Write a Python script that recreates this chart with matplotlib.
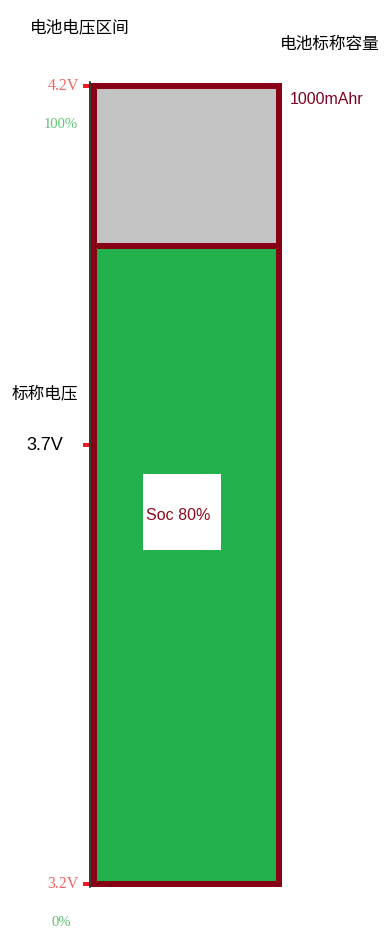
import matplotlib
matplotlib.use('Agg')
import matplotlib.pyplot as plt
from matplotlib.patches import Rectangle

plt.rcParams['font.family'] = ['Noto Sans CJK SC', 'DejaVu Sans']

# 电池参数
capacity_label = '1000mAhr'
soc = 80                              # 当前剩余电量 (%)
soc_full = 100
voltage_labels = ['3.2V', '3.7V', '4.2V']
voltage_soc = [0, 55, 100]            # 各电压在电量轴上的位置
percent_labels = ['0%', '100%']
percent_soc = [0, 100]

BORDER = '#880015'
GREEN = '#22b14c'
GRAY = '#c3c3c3'
TICK_RED = '#ed1c24'
LABEL_RED = '#f06464'
LABEL_GREEN = '#5cc46c'
SERIF = ['Liberation Serif', 'DejaVu Serif']
SANS = ['Liberation Sans', 'DejaVu Sans']

W, H = 385, 935
fig = plt.figure(figsize=(W / 100, H / 100), dpi=100)
fig.patch.set_facecolor('white')


def fx(x):
    return x / W


def fy(y):
    return 1 - y / H


# 电池框
ax = fig.add_axes([fx(94), fy(884), (279 - 94) / W, (884 - 86) / H])
ax.bar([0], [soc], width=1, bottom=0, color=GREEN, edgecolor=BORDER,
       linewidth=4.3, clip_on=False, zorder=2)
ax.bar([0], [soc_full - soc], width=1, bottom=soc, color=GRAY,
       edgecolor=BORDER, linewidth=4.3, clip_on=False, zorder=2)
ax.set_xlim(-0.5, 0.5)
ax.set_ylim(0, soc_full)

for s in ['top', 'right', 'bottom']:
    ax.spines[s].set_visible(False)
ax.spines['left'].set_position(('outward', 2.9))
ax.spines['left'].set_linewidth(1.1)
ax.spines['left'].set_color('black')
ax.spines['left'].set_bounds(-0.4, 100.5)
ax.set_xticks([])
ax.set_yticks(voltage_soc)
ax.tick_params(axis='y', length=5, width=2.9, color=TICK_RED,
               labelleft=False, direction='out')

# 电压标签
lbl_kw = dict(xycoords=('axes fraction', 'data'), textcoords='offset pixels',
              ha='center', va='center', annotation_clip=False)
for v, pos in zip(voltage_labels, voltage_soc):
    if v == '3.7V':
        ax.annotate(v, xy=(0, pos), xytext=(-49, 0), fontsize=13,
                    color='black', family=SANS, **lbl_kw)
        ax.annotate('标称电压', xy=(0, pos), xytext=(-49, 51), fontsize=12,
                    color='black', **lbl_kw)
    else:
        ax.annotate(v, xy=(0, pos), xytext=(-31, 0), fontsize=11.5,
                    color=LABEL_RED, family=SERIF, **lbl_kw)

for p, pos in zip(percent_labels, percent_soc):
    ax.annotate(p, xy=(0, pos), xytext=(-33, -38), fontsize=10.5,
                color=LABEL_GREEN, family=SERIF, **lbl_kw)

# 额定容量
ax.annotate(capacity_label, xy=(1, soc_full), xytext=(11, -14),
            xycoords=('axes fraction', 'data'), textcoords='offset pixels',
            ha='left', va='center', fontsize=11.5, color='#800020',
            family=SANS, annotation_clip=False)

# 电量显示
fig.add_artist(Rectangle((fx(143), fy(550)), (221 - 143) / W, (550 - 474) / H,
                         transform=fig.transFigure, facecolor='white',
                         edgecolor='none', zorder=5))
fig.text(fx(178), fy(515), f'Soc {soc}%', ha='center', va='center',
         fontsize=11.5, color='#8b0a1a', zorder=6, family=SANS)

# 标题
fig.text(fx(80), fy(28), '电池电压区间', ha='center', va='center',
         fontsize=12, color='black')
fig.text(fx(330), fy(44), '电池标称容量', ha='center', va='center',
         fontsize=12, color='black')

fig.savefig('out.png', dpi=100)
